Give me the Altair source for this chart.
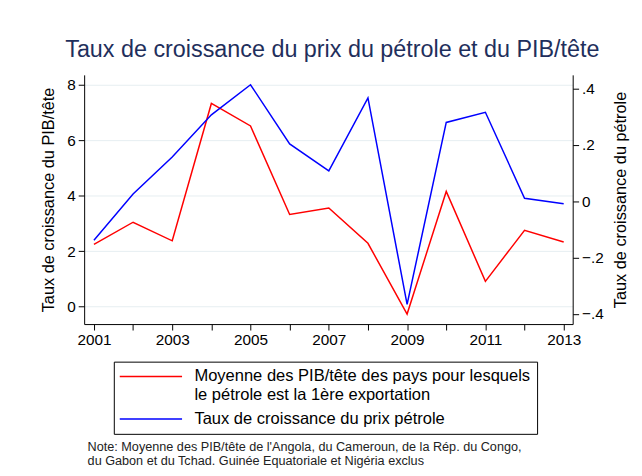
import altair as alt
import pandas as pd

years = list(range(2001, 2014))
pib = [2.24, 3.04, 2.37, 7.32, 6.51, 3.32, 3.55, 2.28, -0.27, 4.15, 0.91, 2.75, 2.33]
oil = [-0.138, 0.026, 0.157, 0.307, 0.414, 0.204, 0.108, 0.367, -0.366, 0.280, 0.316, 0.011, -0.009]

series_keys = ["pib", "oil"]
series_colors = ["#ff0000", "#0000ff"]
label_pib = ["Moyenne des PIB/tête des pays pour lesquels", "le pétrole est la 1ère exportation"]
label_oil = "Taux de croissance du prix pétrole"
note_lines = ["Note: Moyenne des PIB/tête de l'Angola, du Cameroun, de la Rép. du Congo,",
              "du Gabon et du Tchad. Guinée Equatoriale et Nigéria exclus"]
title_text = "Taux de croissance du prix du pétrole et du PIB/tête"
left_title = "Taux de croissance du PIB/tête"
right_title = "Taux de croissance du pétrole"

df = pd.DataFrame({"year": years, "pib": pib, "oil": oil})

FONT = "Liberation Sans"

label_expr = ("datum.value == 'pib' ? ['" + label_pib[0] + "', '" + label_pib[1] + "'] : '" + label_oil + "'")

color = alt.Color(
    "series:N",
    scale=alt.Scale(domain=series_keys, range=series_colors),
    legend=alt.Legend(
        title=None, orient="none", legendX=30, legendY=290,
        symbolType="M-4,0H4", symbolSize=248, symbolStrokeWidth=1.5, symbolOffset=22.5,
        labelFontSize=16.7, labelFont=FONT, labelColor="black",
        labelExpr=label_expr, labelLimit=600, labelOffset=35,
        strokeColor="black", padding=6, rowPadding=6, fillColor="white",
    ),
)

x = alt.X(
    "year:Q",
    scale=alt.Scale(domain=[2000.75, 2013.23], nice=False, zero=False),
    axis=alt.Axis(
        values=years, format="d",
        labelExpr="datum.value % 2 == 1 ? datum.label : ''",
        grid=False, tickSize=6, labelFontSize=15.5, labelFont=FONT, labelColor="black",
        labelPadding=3, domainColor="black", tickColor="black",
        title=note_lines, titleFontSize=12.8, titleFont=FONT, titleFontWeight="normal",
        titleColor="#222222", titleAnchor="start", titleAlign="left", titleBaseline="top",
        titleX=3, titleY=118, titleLineHeight=14,
    ),
)

red = alt.Chart(df).transform_calculate(series="'pib'").mark_line(strokeWidth=1.5).encode(
    x=x,
    y=alt.Y(
        "pib:Q",
        scale=alt.Scale(domain=[-0.63, 8.35], nice=False, zero=False),
        axis=alt.Axis(
            values=[0, 2, 4, 6, 8], orient="left", grid=True, gridColor="#e6eef1",
            tickSize=6, labelFontSize=15.5, labelFont=FONT, labelColor="black", labelPadding=3,
            domainColor="black", tickColor="black",
            title=left_title, titleFontSize=16.5, titleFont=FONT, titleFontWeight="normal",
            titleColor="black", titlePadding=10,
        ),
    ),
    color=color,
)

blue = alt.Chart(df).transform_calculate(series="'oil'").mark_line(strokeWidth=1.5).encode(
    x=x,
    y=alt.Y(
        "oil:Q",
        scale=alt.Scale(domain=[-0.436, 0.449], nice=False, zero=False),
        axis=alt.Axis(
            values=[-0.4, -0.2, 0, 0.2, 0.4], orient="right", grid=False,
            labelExpr="datum.value == 0 ? '0' : replace(format(datum.value, '.1f'), '0.', '.')",
            tickSize=6, labelFontSize=15.5, labelFont=FONT, labelColor="black", labelPadding=3,
            domainColor="black", tickColor="black",
            title=right_title, titleFontSize=16.5, titleFont=FONT, titleFontWeight="normal",
            titleColor="black", titlePadding=25, titleAngle=270,
        ),
    ),
    color=color,
)

chart = alt.layer(red, blue).resolve_scale(y="independent").properties(
    width=494, height=252,
    autosize=alt.AutoSizeParams(type="none"),
    padding={"left": 77, "top": 65, "right": 62, "bottom": 150},
    title=alt.TitleParams(title_text, fontSize=23.6, font=FONT, fontWeight="normal",
                          color="#1f2f5c", anchor="middle", frame="group", dx=4, offset=13),
    background="white",
).configure_view(stroke=None)

chart.save("out.html", embed_options={"renderer": "svg", "actions": False})
